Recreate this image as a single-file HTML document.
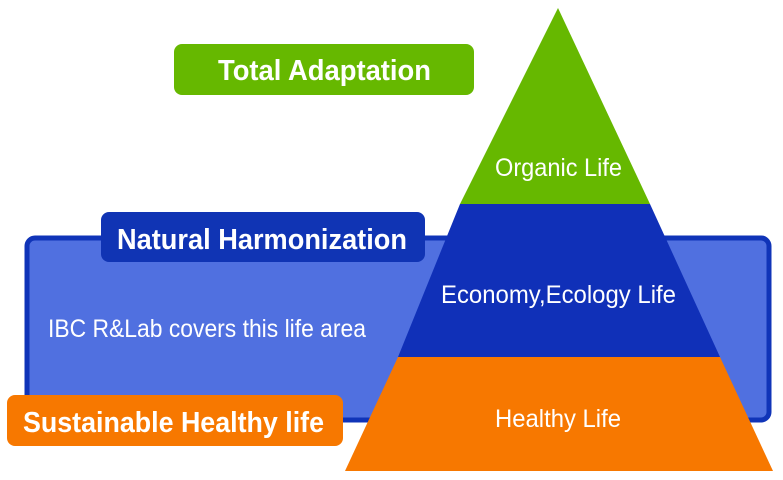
<!DOCTYPE html>
<html><head><meta charset="utf-8"><style>
html,body{margin:0;padding:0;background:#fff;}
svg{display:block;}
text{font-family:"Liberation Sans",sans-serif;fill:#fff;}
</style></head><body>
<svg width="783" height="480" viewBox="0 0 783 480">
<rect x="27" y="238" width="742" height="182" rx="8" fill="#5070e0" stroke="#1034b8" stroke-width="5"/>
<polygon points="558,8 650,204 460,204" fill="#66b800"/>
<polygon points="460,204 650,204 720,357 398,357" fill="#1030b8"/>
<polygon points="398,357 720,357 773,471 345,471" fill="#f77800"/>
<rect x="174" y="44" width="300" height="51" rx="8" fill="#66b800"/>
<rect x="101" y="212" width="324" height="50" rx="8" fill="#1034b4"/>
<rect x="7" y="395" width="336" height="51" rx="8" fill="#f77800"/>
<text x="218" y="80" font-size="29" font-weight="bold" textLength="213" lengthAdjust="spacingAndGlyphs">Total Adaptation</text>
<text x="117" y="249" font-size="29" font-weight="bold" textLength="290" lengthAdjust="spacingAndGlyphs">Natural Harmonization</text>
<text x="23" y="432" font-size="29" font-weight="bold" textLength="301" lengthAdjust="spacingAndGlyphs">Sustainable Healthy life</text>
<text x="495" y="176" font-size="25" textLength="127" lengthAdjust="spacingAndGlyphs">Organic Life</text>
<text x="441" y="303" font-size="25" textLength="235" lengthAdjust="spacingAndGlyphs">Economy,Ecology Life</text>
<text x="48" y="337" font-size="25" textLength="318" lengthAdjust="spacingAndGlyphs">IBC R&amp;Lab covers this life area</text>
<text x="495" y="427" font-size="25" textLength="126" lengthAdjust="spacingAndGlyphs">Healthy Life</text>
</svg>
</body></html>
